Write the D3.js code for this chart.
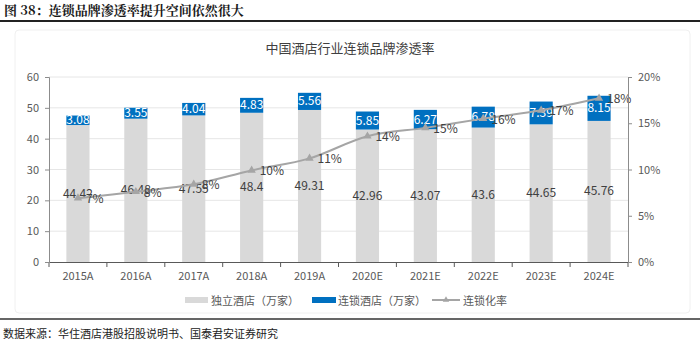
<!DOCTYPE html>
<html>
<head>
<meta charset="utf-8">
<script src="https://cdn.jsdelivr.net/npm/d3@7"></script>
<style>
  body { margin: 0; background: #fff; }
  svg text { font-family: "Noto Sans CJK SC", "Noto Sans", sans-serif; }
</style>
</head>
<body>
<svg id="chart" width="700" height="350"></svg>
<script>
// 数据
const years = ["2015A", "2016A", "2017A", "2018A", "2019A", "2020E", "2021E", "2022E", "2023E", "2024E"];
const independent = [44.42, 46.48, 47.55, 48.4, 49.31, 42.96, 43.07, 43.6, 44.65, 45.76];
const chain = [3.08, 3.55, 4.04, 4.83, 5.56, 5.85, 6.27, 6.78, 7.39, 8.15];
const chainRate = [6.9, 7.6, 8.4, 9.9, 11.2, 13.6, 14.5, 15.5, 16.4, 17.7];
const rateLabels = ["7%", "8%", "8%", "10%", "11%", "14%", "15%", "16%", "17%", "18%"];
const leftTicks = [0, 10, 20, 30, 40, 50, 60];
const rightTicks = [0, 5, 10, 15, 20];

const svg = d3.select("#chart");
const margin = { left: 49, right: 72, top: 77, bottom: 88 };
const width = 700 - margin.left - margin.right;
const height = 350 - margin.top - margin.bottom;

// 外框和标题
svg.append("text")
    .attr("x", 4).attr("y", 15)
    .attr("font-size", 13).attr("font-weight", "bold")
    .attr("fill", "#1a1a1a")
    .style("font-family", "'Noto Serif CJK SC', 'Noto Sans CJK SC', serif")
    .text("图 38：连锁品牌渗透率提升空间依然很大");
svg.append("line").attr("x1", 0).attr("x2", 700).attr("y1", 21).attr("y2", 21)
    .attr("stroke", "#222").attr("stroke-width", 2);
svg.append("rect").attr("x", 15).attr("y", 30).attr("width", 675).attr("height", 283)
    .attr("rx", 4).attr("fill", "none").attr("stroke", "#f0f0f0");
svg.append("text")
    .attr("x", 350).attr("y", 53).attr("text-anchor", "middle")
    .attr("font-size", 13).attr("fill", "#404040")
    .text("中国酒店行业连锁品牌渗透率");
svg.append("line").attr("x1", 0).attr("x2", 700).attr("y1", 319).attr("y2", 319)
    .attr("stroke", "#333").attr("stroke-width", 1.5);
svg.append("text")
    .attr("x", 3).attr("y", 338)
    .attr("font-size", 11).attr("fill", "#222")
    .text("数据来源：华住酒店港股招股说明书、国泰君安证券研究");

const g = svg.append("g").attr("transform", `translate(${margin.left}, ${margin.top})`);

const x = d3.scaleBand().domain(years).range([0, width]).paddingInner(0.6).paddingOuter(0.3);
const y = d3.scaleLinear().domain([0, 60]).range([height, 0]);
const y2 = d3.scaleLinear().domain([0, 20]).range([height, 0]);

// 网格线
g.selectAll(".grid").data(leftTicks.slice(1)).enter().append("line")
    .attr("x1", 0).attr("x2", width)
    .attr("y1", (d) => y(d)).attr("y2", (d) => y(d))
    .attr("stroke", "#e6e6e6");

// 柱子
g.selectAll(".bar-ind").data(years).enter().append("rect")
    .attr("x", (d) => x(d)).attr("width", x.bandwidth())
    .attr("y", (d, i) => y(independent[i]))
    .attr("height", (d, i) => y(0) - y(independent[i]))
    .attr("fill", "#d9d9d9");
g.selectAll(".bar-chain").data(years).enter().append("rect")
    .attr("x", (d) => x(d)).attr("width", x.bandwidth())
    .attr("y", (d, i) => y(independent[i] + chain[i]))
    .attr("height", (d, i) => y(independent[i]) - y(independent[i] + chain[i]))
    .attr("fill", "#0070c0");

// 柱标签
g.selectAll(".lbl-ind").data(years).enter().append("text")
    .attr("x", (d) => x(d) + x.bandwidth() / 2)
    .attr("y", (d, i) => y(independent[i] / 2) + 4)
    .attr("text-anchor", "middle").attr("font-size", 12).attr("fill", "#404040")
    .text((d, i) => independent[i]);
g.selectAll(".lbl-chain").data(years).enter().append("text")
    .attr("x", (d) => x(d) + x.bandwidth() / 2)
    .attr("y", (d, i) => y(independent[i] + chain[i] / 2) + 4)
    .attr("text-anchor", "middle").attr("font-size", 12).attr("fill", "#fff")
    .text((d, i) => chain[i]);

// 连锁化率折线
const line = d3.line()
    .x((d, i) => x(years[i]) + x.bandwidth() / 2)
    .y((d) => y2(d))
    .curve(d3.curveCatmullRom);
g.append("path").datum(chainRate)
    .attr("fill", "none").attr("stroke", "#a5a5a5").attr("stroke-width", 2)
    .attr("d", line);
const tri = d3.symbol().type(d3.symbolTriangle).size(30);
g.selectAll(".marker").data(chainRate).enter().append("path")
    .attr("d", tri)
    .attr("transform", (d, i) => `translate(${x(years[i]) + x.bandwidth() / 2}, ${y2(d)})`)
    .attr("fill", "#a5a5a5");
g.selectAll(".lbl-rate").data(chainRate).enter().append("text")
    .attr("x", (d, i) => x(years[i]) + x.bandwidth() / 2 + 8)
    .attr("y", (d) => y2(d) + 5)
    .attr("font-size", 12).attr("fill", "#404040")
    .text((d, i) => rateLabels[i]);

// 坐标轴
const xAxis = g.append("g").attr("transform", `translate(0, ${height})`)
    .call(d3.axisBottom(x).tickSize(0).tickPadding(10));
xAxis.selectAll("text").attr("font-size", 11).attr("fill", "#595959");
xAxis.select(".domain").attr("stroke", "#595959");
g.selectAll(".xtick").data(d3.range(years.length + 1)).enter().append("line")
    .attr("x1", (d) => d * x.step()).attr("x2", (d) => d * x.step())
    .attr("y1", height).attr("y2", height + 5)
    .attr("stroke", "#595959");

const yAxis = g.append("g")
    .call(d3.axisLeft(y).tickValues(leftTicks).tickSize(4).tickPadding(6));
yAxis.selectAll("text").attr("font-size", 11).attr("fill", "#595959");
yAxis.selectAll("line, .domain").attr("stroke", "#8c8c8c");

const y2Axis = g.append("g").attr("transform", `translate(${width}, 0)`)
    .call(d3.axisRight(y2).tickValues(rightTicks).tickFormat((d) => d + "%").tickSize(4).tickPadding(6));
y2Axis.selectAll("text").attr("font-size", 11).attr("fill", "#595959");
y2Axis.selectAll("line, .domain").attr("stroke", "#8c8c8c");
[yAxis, y2Axis, xAxis].forEach((a) => a.attr("font-family", null));

// 图例
const legend = svg.append("g").attr("transform", "translate(0, 301)");
legend.append("rect").attr("x", 185).attr("y", -4).attr("width", 23).attr("height", 6).attr("fill", "#d9d9d9");
legend.append("text").attr("x", 211).attr("y", 4).attr("font-size", 11).attr("fill", "#595959").text("独立酒店（万家）");
legend.append("rect").attr("x", 312).attr("y", -4).attr("width", 24).attr("height", 6).attr("fill", "#0070c0");
legend.append("text").attr("x", 338).attr("y", 4).attr("font-size", 11).attr("fill", "#595959").text("连锁酒店（万家）");
legend.append("line").attr("x1", 432).attr("x2", 460).attr("y1", -1).attr("y2", -1).attr("stroke", "#a5a5a5").attr("stroke-width", 2);
legend.append("path").attr("d", d3.symbol().type(d3.symbolTriangle).size(18))
    .attr("transform", "translate(446, -1)").attr("fill", "#a5a5a5");
legend.append("text").attr("x", 463).attr("y", 4).attr("font-size", 11).attr("fill", "#595959").text("连锁化率");
</script>
</body>
</html>
